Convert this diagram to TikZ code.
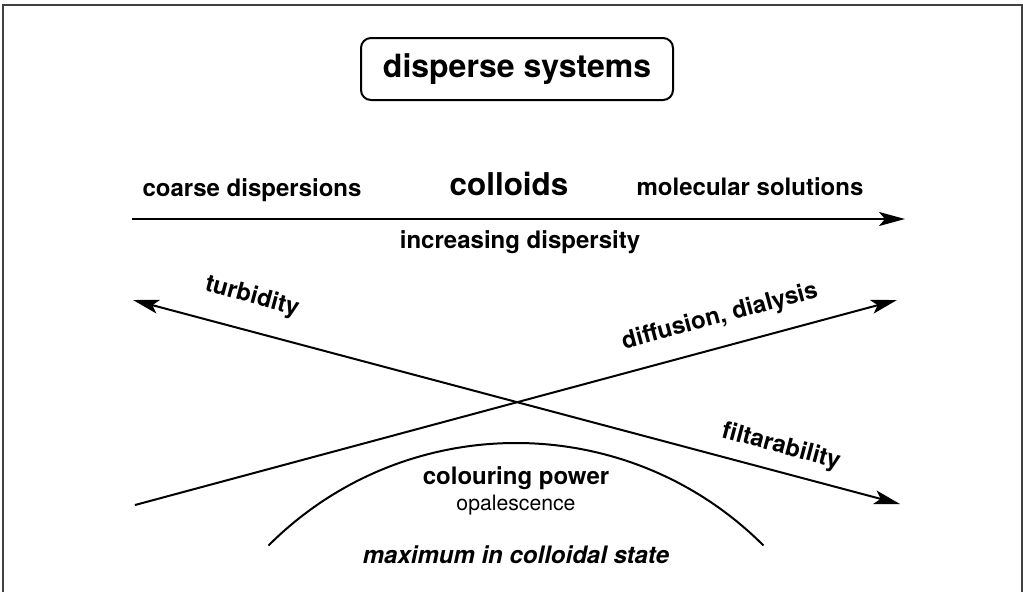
\documentclass[tikz,border=0pt]{standalone}
\usepackage{fontspec}
\setmainfont{TeX Gyre Heros}
\usetikzlibrary{arrows.meta}
\begin{document}
\begin{tikzpicture}[x=0.5pt,y=-0.5pt,
  tip/.style={-{Stealth[length=13pt,width=7pt,inset=3pt]}},
  bothtips/.style={{Stealth[length=13pt,width=7pt,inset=3pt]}-{Stealth[length=13pt,width=7pt,inset=3pt]}},
  stroke/.style={line width=1pt, black},
  lbl/.style={font=\bfseries\fontsize{12}{14}\selectfont, inner sep=0pt},
  biglbl/.style={font=\bfseries\fontsize{15.7}{18}\selectfont, inner sep=0pt},
  smalllbl/.style={font=\fontsize{10.6}{13}\selectfont, inner sep=0pt},
  titlebox/.style={draw, line width=1pt, rounded corners=5pt, minimum width=156pt, minimum height=31pt,
    font=\bfseries\fontsize{16}{19}\selectfont}]
\useasboundingbox (0,0) rectangle (1023,591);

% outer frame (runs off the lower edge)
\draw[line width=1pt, black!75] (3,620) -- (3,5) -- (1022,5) -- (1022,620);

% title
\node[titlebox] (title) at (517,69) {disperse systems};

% dispersity axis
\coordinate (axL) at (132,219);
\coordinate (axR) at (905,219);
\draw[stroke, tip] (axL) -- (axR);
\node[lbl, anchor=base] (coarse) at (252,196) {coarse dispersions};
\node[biglbl, anchor=base] (colloids) at (509,195) {colloids};
\node[lbl, anchor=base] (molec) at (750,195) {molecular solutions};
\node[lbl, anchor=base] (incr) at (520,248) {increasing dispersity};

% crossing property arrows
\coordinate (turbEnd) at (133,300);
\coordinate (filtEnd) at (900,504);
\coordinate (diffStart) at (135,505);
\coordinate (diffEnd) at (897,300);
\draw[stroke, bothtips] (turbEnd) -- (filtEnd);
\draw[stroke, tip] (diffStart) -- (diffEnd);
\node[lbl, rotate=-15] (turb) at (252,297) {turbidity};
\node[lbl, rotate=15] (diff) at (720,317) {diffusion, dialysis};
\node[lbl, rotate=-15] (filt) at (781,447) {filtarability};

% colouring power maximum
\draw[stroke] (268.5,545.5) arc[start angle=-135, end angle=-45, radius=350];
\node[lbl, anchor=base] (colour) at (516,484) {colouring power};
\node[smalllbl, anchor=base] (opal) at (516,510) {opalescence};
\node[lbl, anchor=base, font=\bfseries\itshape\fontsize{12}{14}\selectfont] (maxim) at (516,563) {maximum in colloidal state};
\end{tikzpicture}
\end{document}
